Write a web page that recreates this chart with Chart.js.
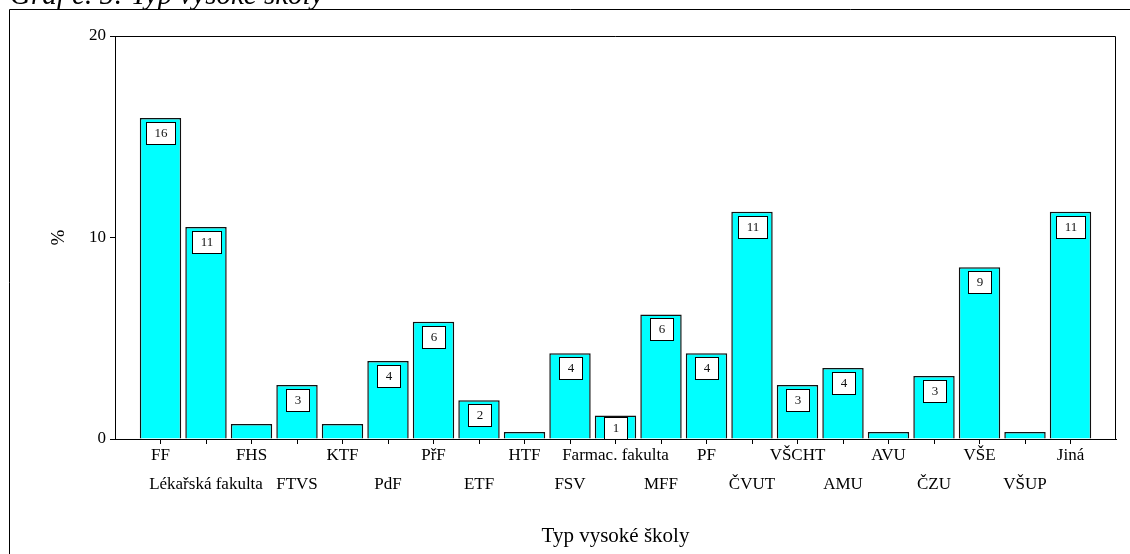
<!DOCTYPE html>
<html>
<head>
<meta charset="utf-8">
<script src="https://cdn.jsdelivr.net/npm/chart.js@4.4.1/dist/chart.umd.min.js"></script>
<style>
  html, body { margin: 0; padding: 0; background: #fff; }
  #wrap { width: 1130px; height: 554px; overflow: hidden; }
</style>
</head>
<body>
<div id="wrap"><canvas id="c" width="1130" height="554"></canvas></div>
<script>
const chartTitle = 'Graf č. 5: Typ vysoké školy';
const xAxisTitle = 'Typ vysoké školy';
const yAxisTitle = '%';
const categories = ['FF', 'Lékařská fakulta', 'FHS', 'FTVS', 'KTF', 'PdF', 'PřF', 'ETF', 'HTF', 'FSV',
  'Farmac. fakulta', 'MFF', 'PF', 'ČVUT', 'VŠCHT', 'AMU', 'AVU', 'ČZU', 'VŠE', 'VŠUP', 'Jiná'];
const values = [15.93, 10.52, 0.74, 2.68, 0.74, 3.87, 5.82, 1.92, 0.35, 4.25,
  1.17, 6.18, 4.25, 11.28, 2.68, 3.52, 0.35, 3.13, 8.52, 0.35, 11.28];
const yTicks = [0, 10, 20];

const SERIF = '"Liberation Serif", "Times New Roman", serif';

const framePlugin = {
  id: 'frame',
  beforeDraw(chart) {
    const ctx = chart.ctx;
    ctx.save();
    ctx.fillStyle = '#fff';
    ctx.fillRect(0, 0, chart.width, chart.height);
    ctx.strokeStyle = '#000';
    ctx.lineWidth = 1;
    ctx.beginPath();
    ctx.moveTo(9.5, chart.height + 2);
    ctx.lineTo(9.5, 9.5);
    ctx.lineTo(chart.width + 2, 9.5);
    ctx.stroke();
    ctx.fillStyle = '#000';
    ctx.font = 'italic 29px ' + SERIF;
    ctx.textBaseline = 'alphabetic';
    ctx.textAlign = 'left';
    ctx.fillText(chartTitle, 10, 3.5);
    ctx.restore();
  },
  afterDraw(chart) {
    const ctx = chart.ctx;
    const a = chart.chartArea;
    ctx.save();
    ctx.strokeStyle = '#000';
    ctx.lineWidth = 1;
    ctx.beginPath();
    ctx.moveTo(Math.round(a.left), Math.round(a.top) + 0.5);
    ctx.lineTo(Math.round(a.right) - 0.5, Math.round(a.top) + 0.5);
    ctx.lineTo(Math.round(a.right) - 0.5, Math.round(a.bottom));
    ctx.stroke();
    ctx.restore();
  }
};

const labelPlugin = {
  id: 'barLabels',
  afterDatasetsDraw(chart) {
    const ctx = chart.ctx;
    const meta = chart.getDatasetMeta(0);
    ctx.save();
    ctx.font = '13px ' + SERIF;
    ctx.textAlign = 'center';
    ctx.textBaseline = 'middle';
    meta.data.forEach((bar, i) => {
      const v = values[i];
      if (v < 1) return;
      const txt = String(Math.round(v));
      const tw = ctx.measureText(txt).width;
      const w = Math.round(tw + 16), h = 22;
      let top = bar.y + 4;
      if (top + h > bar.base) top = bar.base - h;
      const x = Math.round(bar.x - w / 2) + 0.5;
      const y = Math.round(top) + 0.5;
      ctx.fillStyle = '#fff';
      ctx.fillRect(x, y, w, h);
      ctx.strokeStyle = '#000';
      ctx.lineWidth = 1;
      ctx.strokeRect(x, y, w, h);
      ctx.fillStyle = '#111';
      ctx.fillText(txt, x + w / 2, y + h / 2 + 0.5);
    });
    ctx.restore();
  }
};

new Chart(document.getElementById('c'), {
  type: 'bar',
  data: {
    datasets: [{
      data: values.map((v, i) => ({ x: i, y: v })),
      backgroundColor: '#00FFFF',
      borderColor: '#111',
      borderWidth: 1.5,
      categoryPercentage: 0.91,
      barPercentage: 1
    }]
  },
  options: {
    responsive: false,
    animation: false,
    devicePixelRatio: 1,
    layout: { padding: { left: 0, top: 36, right: 14, bottom: 0 } },
    plugins: { legend: { display: false }, tooltip: { enabled: false }, title: { display: false } },
    scales: {
      x: {
        type: 'linear',
        min: -1,
        max: 21,
        offset: false,
        grid: { display: true, drawOnChartArea: false, drawTicks: true, tickLength: 5, color: '#000', offset: false },
        border: { display: true, color: '#000', width: 1 },
        afterBuildTicks(scale) { scale.ticks = categories.map((c, i) => ({ value: i })); },
        afterFit(scale) { scale.height = 115; },
        ticks: {
          autoSkip: false,
          maxRotation: 0,
          minRotation: 0,
          padding: -2.5,
          color: '#000',
          font: { family: SERIF, size: 17, lineHeight: 1.69 },
          callback(value) {
            const i = Math.round(value);
            return i % 2 === 0 ? [categories[i]] : ['', categories[i]];
          }
        },
        title: {
          display: true,
          text: xAxisTitle,
          color: '#000',
          font: { family: SERIF, size: 21, lineHeight: 1.2 },
          padding: { top: 0, bottom: 5 }
        }
      },
      y: {
        min: 0,
        max: 20,
        grid: { display: true, drawOnChartArea: false, drawTicks: true, tickLength: 5, color: '#000' },
        border: { display: true, color: '#000', width: 1 },
        afterBuildTicks(scale) { scale.ticks = yTicks.map(v => ({ value: v })); },
        afterFit(scale) { scale.width = 115; },
        ticks: {
          padding: 4,
          color: '#000',
          font: { family: SERIF, size: 17 }
        },
        title: {
          display: true,
          text: yAxisTitle,
          color: '#000',
          font: { family: SERIF, size: 19, lineHeight: 1.2 },
          padding: { top: 48, bottom: 0 }
        }
      }
    }
  },
  plugins: [framePlugin, labelPlugin]
});
</script>
</body>
</html>
